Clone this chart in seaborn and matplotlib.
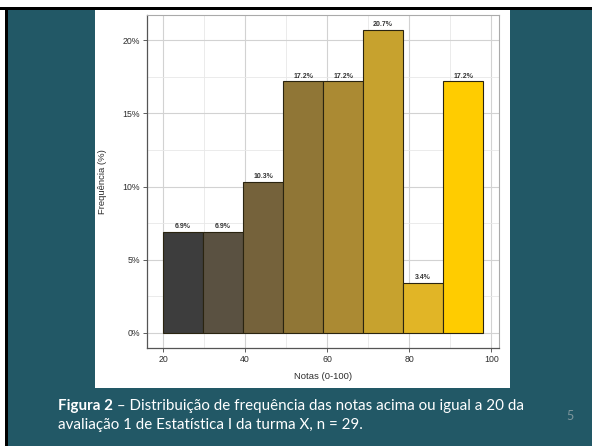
import matplotlib
matplotlib.use("Agg")
import matplotlib.pyplot as plt
import seaborn as sns
from matplotlib.patches import Rectangle
from matplotlib.ticker import MultipleLocator, FuncFormatter

# bins (notas) and frequency (%)
bin_edges = [20, 29.75, 39.5, 49.25, 59, 68.75, 78.5, 88.25, 98]
freq_pct = [6.9, 6.9, 10.3, 17.2, 17.2, 20.7, 3.4, 17.2]
bar_colors = ["#3d3d3d", "#5a5141", "#75623b", "#907636",
              "#ab8a33", "#c7a22e", "#e1b526", "#ffcc00"]
x_ticks = [20, 40, 60, 80, 100]
y_ticks = [0, 5, 10, 15, 20]

teal = "#225866"

sns.set_theme(style="white")
plt.rcParams["font.family"] = ["Liberation Sans", "DejaVu Sans"]

fig = plt.figure(figsize=(5.92, 4.46), dpi=100, facecolor=teal)
W, H = 592, 446

# slide frame: white margin + black line at top/left, white chart panel
fig.patches.append(Rectangle((0, 1 - 7 / H), 1, 7 / H, transform=fig.transFigure,
                             facecolor="white", edgecolor="none", zorder=0))
fig.patches.append(Rectangle((0, 0), 5 / W, 1, transform=fig.transFigure,
                             facecolor="white", edgecolor="none", zorder=0))
fig.patches.append(Rectangle((0, 1 - 10 / H), 1, 3 / H, transform=fig.transFigure,
                             facecolor="black", edgecolor="none", zorder=0))
fig.patches.append(Rectangle((5 / W, 0), 3 / W, 1 - 7 / H, transform=fig.transFigure,
                             facecolor="black", edgecolor="none", zorder=0))
fig.patches.append(Rectangle((95 / W, 1 - 388 / H), (510 - 95) / W, (388 - 10) / H,
                             transform=fig.transFigure, facecolor="white",
                             edgecolor="none", zorder=0))

ax = fig.add_axes([147 / W, 1 - 348 / H, (499 - 147) / W, (348 - 15) / H], zorder=2)
ax.set_facecolor("white")

centers = [(a + b) / 2 for a, b in zip(bin_edges[:-1], bin_edges[1:])]
sns.histplot(x=centers, weights=freq_pct, bins=bin_edges, ax=ax,
             edgecolor="#2a2410", linewidth=0.8, alpha=1, zorder=3)
for patch, c, v in zip(ax.patches, bar_colors, freq_pct):
    patch.set_facecolor(c)
    ax.text(patch.get_x() + patch.get_width() / 2, v + 0.12, f"{v:.1f}%",
            ha="center", va="bottom", fontsize=5, fontweight="bold",
            color="#333333", zorder=4)

ax.set_xlim(16.1, 101.9)
ax.set_ylim(-1.035, 21.735)
ax.set_xticks(x_ticks)
ax.set_yticks(y_ticks)
ax.xaxis.set_minor_locator(MultipleLocator(10))
ax.yaxis.set_minor_locator(MultipleLocator(2.5))
ax.yaxis.set_major_formatter(FuncFormatter(lambda v, p: f"{v:.0f}%"))
ax.grid(True, which="major", color="#d2d2d2", linewidth=0.8, zorder=0)
ax.grid(True, which="minor", color="#e8e8e8", linewidth=0.6, zorder=0)
ax.set_axisbelow(True)

ax.tick_params(axis="both", which="major", labelsize=6.3, colors="#444444",
               length=3, width=0.6, pad=2, labelcolor="#2e2e2e",
               bottom=True, left=True)
ax.tick_params(axis="both", which="minor", length=0)
for side in ["top", "right"]:
    ax.spines[side].set_color("#aaaaaa")
    ax.spines[side].set_linewidth(0.8)
for side in ["left", "bottom"]:
    ax.spines[side].set_color("#555555")
    ax.spines[side].set_linewidth(0.9)

ax.set_xlabel("Notas (0-100)", fontsize=6.8, color="#2e2e2e", labelpad=6)
ax.set_ylabel("Frequência (%)", fontsize=6.8, color="#2e2e2e")
ax.yaxis.set_label_coords((107 - 147) / (499 - 147), 0.5)

# caption
cap_font = ["Lato", "DejaVu Sans"]
cap_size = 10.9
bold = fig.text(58 / W, 1 - 410 / H, "Figura 2", color="white", fontsize=cap_size,
                fontweight="bold", family=cap_font, va="baseline", zorder=3)
fig.canvas.draw()
ax.annotate(" \u2013 Distribuição de frequência das notas acima ou igual a 20 da",
            xy=(1, 0), xycoords=bold, va="bottom", ha="left",
            color="white", fontsize=cap_size, family=cap_font,
            annotation_clip=False)
fig.text(58 / W, 1 - 429 / H, "avaliação 1 de Estatística I da turma X, n = 29.",
         color="white", fontsize=cap_size, family=cap_font, va="baseline", zorder=3)
fig.text(566 / W, 1 - 420 / H, "5", color="#7f979d", fontsize=9, family=cap_font,
         va="baseline", zorder=3)

fig.savefig("out.png", dpi=100, facecolor=teal)
